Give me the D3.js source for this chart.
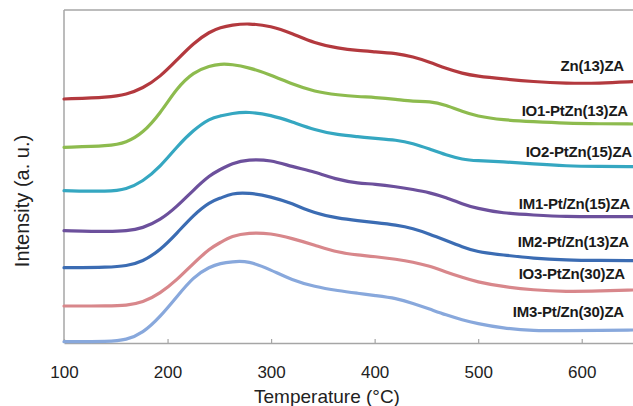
<!DOCTYPE html>
<html><head><meta charset="utf-8">
<script src="https://cdn.jsdelivr.net/npm/d3@7"></script>
<style>body{margin:0;background:#fff;overflow:hidden}</style>
</head><body>
<svg id="chart" width="633" height="406"></svg>
<script>
// ---- data ----
const temperatures = [100,144,160,176,193,209,225,241,251,262,278,300,320,342,365,384,400,421,437,453,469,485,498,524,553,585,617,650];
const seriesNames = ["Zn(13)ZA","IO1-PtZn(13)ZA","IO2-PtZn(15)ZA","IM1-Pt/Zn(15)ZA","IM2-Pt/Zn(13)ZA","IO3-PtZn(30)ZA","IM3-Pt/Zn(30)ZA"];
const zn13 = [244,245.7,248.5,254.5,266.3,283,300,311.5,315.5,318,319.7,317,309.7,299.7,294.7,292.3,291.3,289.7,286.3,281,274.5,269.5,267,264,261.3,259.7,259.7,261.3];
const io1  = [195.7,197,200.3,209.7,229.7,255,271,277.3,279,278.7,275.7,268,259,251.3,248,246.3,245.7,243.7,241.3,242,238,231.3,227,223,221.3,219.7,219.2,219];
const io2  = [152.3,151.3,153.7,161.3,176.3,196.3,213,224.7,227,229.7,231.3,228,221.3,213,208,206.3,204.7,203,199.7,194,188,183.5,182.3,181.3,179,177,176.5,176.3];
const im1  = [112.3,111.3,112,114.7,123,136.3,153,168,173.5,179.7,183.7,183,176.3,171.3,163,159.7,159,156.3,153.5,150.5,145.5,139,134.7,129.7,128,126.3,126.3,126.3];
const im2  = [75.3,75.7,77,81.3,93,109.7,128,141.3,144.7,149.7,150.3,146.3,139.7,129.7,124.7,122.3,120.5,118,114.7,109,102.5,96,91.3,88,84.7,83,82.5,82.3];
const io3  = [37,37,37.5,40.3,49.7,63,79.7,94.7,100.5,107,110.3,109.7,104.7,98,90.3,88,86.5,83.7,81,77,71,65.5,61.3,56.3,53,51.3,52,53];
const im3  = [1.3,1.3,3,9.7,26.3,46.3,66.3,76.3,79.7,81.3,82.3,73,63,56.3,52.3,49.7,47.5,44.7,39.7,34,28,23,19.7,14.7,12.3,12.3,12.5,13];
const xTicks = [100,200,300,400,500,600];

// ---- styles / layout ----
const seriesValues = [zn13, io1, io2, im1, im2, io3, im3];
const colors = ["#b3393e","#8dbb4e","#35a7c1","#6c509c","#3b6cb3","#d8878b","#88a8dc"];
const labelEnd = [624,628,632,630,629,625,624];
const labelBase = [71,116,157,209,247,279,317];

const svg = d3.select("#chart");
const mLeft = 64, mRight = 633.5, mTop = 10, mBottom = 343;
const x = d3.scaleLinear().domain([100,650]).range([mLeft,mRight]);
const y = d3.scaleLinear().domain([0,333]).range([mBottom,mTop]);

// frame
svg.append("line").attr("x1",mLeft).attr("x2",640).attr("y1",mTop).attr("y2",mTop)
  .attr("stroke","#a6a6a6").attr("stroke-width",1.5);
svg.append("line").attr("x1",mLeft).attr("x2",mLeft).attr("y1",mTop).attr("y2",mBottom)
  .attr("stroke","#a6a6a6").attr("stroke-width",1.5);

// x axis
const xAxis = d3.axisBottom(x).tickValues(xTicks).tickSizeInner(-4).tickSizeOuter(0).tickPadding(23);
const gx = svg.append("g").attr("transform",`translate(0,${mBottom})`).call(xAxis);
gx.select(".domain").attr("stroke","#a6a6a6").attr("stroke-width",1.5);
gx.selectAll(".tick line").attr("stroke","#a6a6a6").attr("stroke-width",1.2);
gx.selectAll(".tick text").attr("font-family","Liberation Sans, Arial, sans-serif")
  .attr("font-size",17).attr("fill","#222");

// lines
const line = d3.line().x((d,i)=>x(temperatures[i])).y(d=>y(d)).curve(d3.curveBasis);
svg.append("g").selectAll("path").data(seriesValues).join("path")
  .attr("d",line).attr("fill","none").attr("stroke",(d,i)=>colors[i])
  .attr("stroke-width",3.2).attr("stroke-linejoin","round").attr("stroke-linecap","round");

// series labels
svg.append("g").selectAll("text").data(seriesNames).join("text")
  .attr("x",(d,i)=>labelEnd[i]).attr("y",(d,i)=>labelBase[i])
  .attr("text-anchor","end").attr("font-family","Liberation Sans, Arial, sans-serif")
  .attr("font-weight","bold").attr("font-size",15).attr("letter-spacing","-0.2")
  .attr("fill","#1a1a1a").text(d=>d);

// axis titles
svg.append("text").attr("x",327).attr("y",403).attr("text-anchor","middle")
  .attr("font-family","Liberation Sans, Arial, sans-serif").attr("font-size",19).attr("fill","#222")
  .text("Temperature (°C)");
svg.append("text").attr("transform","translate(29,201) rotate(-90)").attr("text-anchor","middle")
  .attr("font-family","Liberation Sans, Arial, sans-serif").attr("font-size",20).attr("fill","#222")
  .text("Intensity (a. u.)");
</script>
</body></html>
